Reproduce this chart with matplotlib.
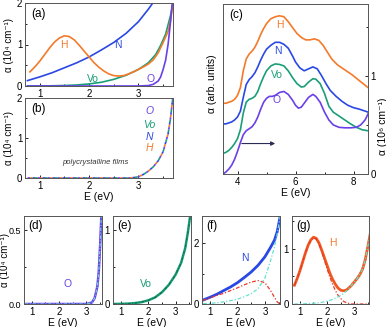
import matplotlib
matplotlib.use("Agg")
import matplotlib.pyplot as plt
from matplotlib.ticker import MultipleLocator, FormatStrFormatter

plt.rcParams['font.family'] = ['Liberation Sans', 'DejaVu Sans']
plt.rcParams['font.size'] = 7

C_H = '#f47a2a'
C_N = '#2a48e4'
C_VO = '#1a9e78'
C_O = '#6a40e8'
C_FIT_R = '#e8382a'
C_FIT_C = '#66e0cc'

# single-crystal spectra, panels (a) and (d)-(g)
E_N = [0.75, 1.0, 1.25, 1.5, 1.75, 2.0, 2.25, 2.5, 2.75, 3.0, 3.2, 3.35, 3.45, 3.55, 3.65]
a_N = [0.13, 0.22, 0.32, 0.44, 0.56, 0.70, 0.87, 1.05, 1.27, 1.55, 1.85, 2.10, 2.38, 2.85, 3.4]
N_red = [0.12, 0.20, 0.28, 0.35, 0.44, 0.53, 0.63, 0.72, 0.77, 0.70, 0.45, 0.22, 0.07, 0.0, 0.0]
N_cyan = [0.01, 0.02, 0.04, 0.07, 0.11, 0.16, 0.24, 0.34, 0.50, 0.85, 1.40, 1.88, 2.31, 2.85, 3.4]

E_H = [0.8, 0.9, 1.0, 1.1, 1.2, 1.3, 1.4, 1.5, 1.6, 1.7, 1.8, 1.9, 2.0, 2.1, 2.2, 2.3,
       2.4, 2.5, 2.6, 2.7, 2.8, 2.9, 3.0, 3.1, 3.2, 3.3, 3.4, 3.5, 3.55, 3.6, 3.65, 3.7]
a_H = [0.34, 0.46, 0.60, 0.76, 0.92, 1.06, 1.16, 1.21, 1.19, 1.11, 0.98, 0.84, 0.70, 0.56,
       0.45, 0.36, 0.29, 0.25, 0.24, 0.25, 0.29, 0.34, 0.40, 0.46, 0.53, 0.63, 0.80, 1.05,
       1.18, 1.32, 1.58, 2.0]
H_red = [0.34, 0.46, 0.60, 0.76, 0.92, 1.06, 1.15, 1.20, 1.18, 1.09, 0.95, 0.80, 0.64, 0.49,
         0.36, 0.25, 0.16, 0.10, 0.05, 0.025, 0.01, 0.0, 0.0, 0.0, 0.0, 0.0, 0.0, 0.0,
         0.0, 0.0, 0.0, 0.0]
H_cyan = [0.0, 0.0, 0.0, 0.005, 0.005, 0.008, 0.01, 0.012, 0.016, 0.022, 0.03, 0.04, 0.05,
          0.065, 0.085, 0.105, 0.13, 0.155, 0.19, 0.23, 0.28, 0.34, 0.40, 0.46, 0.53, 0.63,
          0.80, 1.05, 1.18, 1.32, 1.58, 2.0]

E_VO = [0.75, 1.0, 1.25, 1.5, 1.75, 2.0, 2.25, 2.5, 2.75, 3.0, 3.2, 3.35, 3.45, 3.55, 3.65, 3.7]
a_VO = [0.0, 0.002, 0.005, 0.012, 0.025, 0.05, 0.09, 0.16, 0.26, 0.40, 0.56, 0.76, 0.98,
        1.25, 1.7, 2.0]

E_O = [0.75, 1.5, 2.5, 3.0, 3.2, 3.3, 3.4, 3.45, 3.5, 3.55, 3.6, 3.65, 3.7]
a_O = [0.0, 0.0, 0.0, 0.0, 0.01, 0.04, 0.12, 0.22, 0.40, 0.62, 1.0, 1.55, 2.2]

# polycrystalline films, panel (b)
E_poly = [0.75, 2.0, 2.8, 2.9, 3.0, 3.1, 3.2, 3.3, 3.4, 3.5, 3.6, 3.65, 3.7]
a_poly = [0.0, 0.0, 0.0, 0.01, 0.03, 0.09, 0.17, 0.28, 0.43, 0.66, 1.1, 1.5, 2.05]

# high-energy spectra, panel (c)
E_cO = [3.5, 3.6, 3.7, 3.8, 3.9, 4.0, 4.1, 4.2, 4.3, 4.4, 4.5, 4.6, 4.7, 4.8, 4.9, 5.0, 5.1,
        5.2, 5.3, 5.45, 5.6, 5.75, 5.9, 6.0, 6.1, 6.2, 6.3, 6.45, 6.6, 6.7, 6.85, 7.0, 7.15,
        7.3, 7.5, 7.7, 7.9, 8.1, 8.25, 8.4, 8.5]
c_O = [0.0, 0.02, 0.05, 0.09, 0.15, 0.23, 0.32, 0.40, 0.44, 0.46, 0.48, 0.52, 0.58, 0.66,
       0.73, 0.77, 0.79, 0.79, 0.80, 0.83, 0.84, 0.81, 0.75, 0.70, 0.67, 0.68, 0.72, 0.78,
       0.81, 0.79, 0.73, 0.63, 0.55, 0.50, 0.475, 0.47, 0.47, 0.475, 0.50, 0.55, 0.61]
E_cVO = [3.5, 3.6, 3.7, 3.8, 3.9, 4.0, 4.1, 4.2, 4.3, 4.4, 4.5, 4.6, 4.7, 4.8, 4.9, 5.0, 5.15,
         5.3, 5.45, 5.6, 5.75, 5.9, 6.05, 6.2, 6.3, 6.45, 6.6, 6.7, 6.85, 7.0, 7.15, 7.3, 7.5,
         7.7, 7.9, 8.1, 8.3, 8.5]
c_VO = [0.21, 0.22, 0.24, 0.27, 0.31, 0.36, 0.45, 0.62, 0.73, 0.76, 0.77, 0.79, 0.84, 0.92,
        0.99, 1.05, 1.10, 1.12, 1.115, 1.10, 1.05, 0.98, 0.92, 0.885, 0.89, 0.935, 0.97,
        0.965, 0.92, 0.82, 0.69, 0.63, 0.59, 0.55, 0.51, 0.475, 0.45, 0.44]
E_cN = [3.5, 3.6, 3.7, 3.8, 3.9, 4.0, 4.1, 4.2, 4.3, 4.4, 4.5, 4.6, 4.7, 4.8, 4.9, 5.0, 5.15,
        5.3, 5.45, 5.6, 5.75, 5.9, 6.0, 6.15, 6.3, 6.45, 6.6, 6.75, 6.9, 7.05, 7.2, 7.4, 7.6,
        7.8, 8.0, 8.2, 8.5]
c_N = [0.51, 0.51, 0.52, 0.53, 0.55, 0.58, 0.64, 0.78, 0.91, 0.96, 0.99, 1.03, 1.09, 1.16,
       1.22, 1.27, 1.31, 1.34, 1.34, 1.32, 1.28, 1.20, 1.14, 1.08, 1.05, 1.07, 1.09, 1.07,
       1.00, 0.92, 0.85, 0.79, 0.74, 0.70, 0.675, 0.66, 0.63]
E_cH = [3.5, 3.6, 3.7, 3.8, 3.9, 4.0, 4.1, 4.2, 4.3, 4.4, 4.5, 4.6, 4.7, 4.8, 4.9, 5.0, 5.15,
        5.3, 5.45, 5.6, 5.75, 5.9, 6.05, 6.2, 6.35, 6.5, 6.65, 6.8, 6.95, 7.1, 7.25, 7.45,
        7.7, 7.95, 8.2, 8.5]
c_H = [0.72, 0.72, 0.73, 0.74, 0.76, 0.80, 0.88, 1.05, 1.17, 1.22, 1.25, 1.29, 1.35, 1.42,
       1.48, 1.53, 1.58, 1.60, 1.61, 1.60, 1.55, 1.49, 1.43, 1.39, 1.365, 1.365, 1.375, 1.36,
       1.31, 1.24, 1.17, 1.11, 1.06, 1.01, 0.95, 0.88]

W, H = 386, 327
fig = plt.figure(figsize=(W / 100, H / 100), dpi=100)


def ax_at(l, t, r, b):
    return fig.add_axes([l / W, 1 - b / H, (r - l) / W, (b - t) / H])


def style(ax):
    ax.tick_params(direction='in', which='both', length=2.5, width=0.6, pad=2, labelsize=7)
    ax.tick_params(which='minor', length=1.5)
    for s in ax.spines.values():
        s.set_linewidth(0.7)
        s.set_color('#555555')


ylab = 'α (10⁴ cm⁻¹)'
dashdot = (0, (3, 1.5, 1, 1.5))

# (a)
ax = ax_at(25, 3, 173, 86)
ax.plot(E_N, a_N, color=C_N, lw=1.2)
ax.plot(E_VO, a_VO, color=C_VO, lw=1.2)
ax.plot(E_H, a_H, color=C_H, lw=1.2)
ax.plot(E_O, a_O, color=C_O, lw=1.2)
ax.set_xlim(0.7, 3.7)
ax.set_ylim(0, 2)
ax.xaxis.set_major_locator(MultipleLocator(1))
ax.xaxis.set_minor_locator(MultipleLocator(0.5))
ax.yaxis.set_major_locator(MultipleLocator(1))
ax.yaxis.set_minor_locator(MultipleLocator(0.5))
ax.set_ylabel(ylab, labelpad=2)
ax.text(0.04, 0.94, '(a)', transform=ax.transAxes, va='top', fontsize=8.5)
ax.text(1.49, 0.98, 'H', color=C_H, ha='center', va='center', fontsize=7.5)
ax.text(2.59, 0.98, 'N', color=C_N, ha='center', va='center', fontsize=7.5)
ax.text(2.07, 0.16, 'Vo', color=C_VO, ha='center', va='center', fontsize=7.5)
ax.text(3.24, 0.18, 'O', color=C_O, ha='center', va='center', fontsize=7.5)
style(ax)

# (b)
ax = ax_at(25, 98, 173, 178)
for col, off in [(C_O, 0), (C_VO, 1.5), (C_N, 3), (C_H, 4.5)]:
    ax.plot(E_poly, a_poly, color=col, lw=1.2, ls=(off, (1.5, 4.5)))
ax.set_xlim(0.7, 3.7)
ax.set_ylim(0, 2)
ax.xaxis.set_major_locator(MultipleLocator(1))
ax.xaxis.set_minor_locator(MultipleLocator(0.5))
ax.yaxis.set_major_locator(MultipleLocator(1))
ax.yaxis.set_minor_locator(MultipleLocator(0.5))
ax.set_ylabel(ylab, labelpad=2)
ax.set_xlabel('E (eV)', labelpad=1, fontsize=7.5)
ax.text(0.04, 0.94, '(b)', transform=ax.transAxes, va='top', fontsize=8.5)
for lab, col, yv in [('O', C_O, 1.67), ('Vo', C_VO, 1.32), ('N', C_N, 1.03), ('H', C_H, 0.74)]:
    ax.text(3.22, yv, lab, color=col, ha='center', va='center', fontsize=7.5, style='italic')
ax.text(2.13, 0.38, 'polycrystalline films', ha='center', va='center', fontsize=5.5,
        style='italic', color='#333333')
style(ax)

# (c)
ax = ax_at(223, 4, 368, 174)
ax.plot(E_cH, c_H, color=C_H, lw=1.2)
ax.plot(E_cN, c_N, color=C_N, lw=1.2)
ax.plot(E_cVO, c_VO, color=C_VO, lw=1.2)
ax.plot(E_cO, c_O, color=C_O, lw=1.2)
ax.set_xlim(3.5, 8.5)
ax.set_ylim(0, 1.73)
ax.xaxis.set_major_locator(MultipleLocator(2))
ax.xaxis.set_minor_locator(MultipleLocator(1))
ax.yaxis.tick_right()
ax.yaxis.set_major_locator(MultipleLocator(1))
ax.yaxis.set_minor_locator(MultipleLocator(0.5))
ax.set_xlabel('E (eV)', labelpad=1, fontsize=7.5)
ax.text(0.04, 0.97, '(c)', transform=ax.transAxes, va='top', fontsize=8.5)
ax.text(-0.075, 0.53, 'α (arb. units)', transform=ax.transAxes, rotation=90,
        ha='center', va='center', fontsize=7.5)
ax.text(1.1, 0.28, 'α (10⁶ cm⁻¹)', transform=ax.transAxes, rotation=90,
        ha='center', va='center', fontsize=7.5)
ax.text(5.47, 1.52, 'H', color=C_H, ha='center', va='center', fontsize=7.5)
ax.text(5.40, 1.25, 'N', color=C_N, ha='center', va='center', fontsize=7.5)
ax.text(5.37, 1.01, 'Vo', color=C_VO, ha='center', va='center', fontsize=7.5)
ax.text(5.35, 0.755, 'O', color=C_O, ha='center', va='center', fontsize=7.5)
ax.annotate('', xy=(5.3, 0.31), xytext=(4.15, 0.31),
            arrowprops=dict(arrowstyle='-|>', color='#2a2a55', lw=0.8,
                            mutation_scale=6, shrinkA=0, shrinkB=0))
style(ax)

# (d)-(g)
bottom = [
    ('(d)', 23.5, 101.5, 0.6, 0.5, 0.25, '%.1f'),
    ('(e)', 112.7, 190.7, 1.2, 1, 0.5, '%d'),
    ('(f)', 201.7, 280, 2.9, 2, 1, '%d'),
    ('(g)', 291.7, 369.3, 1.6, 1, 0.5, '%d'),
]
for i, (lab, l, r, ytop, ymaj, ymin, fmt) in enumerate(bottom):
    ax = ax_at(l, 215.7, r, 304)
    if i == 0:
        ax.plot(E_O, a_O, color=C_O, lw=1.8)
        ax.plot(E_O, a_O, color=C_FIT_C, lw=0.8, ls=dashdot)
        ax.text(2.32, 0.136, 'O', color=C_O, ha='center', va='center', fontsize=7.5)
        ax.set_ylabel(ylab, fontsize=7)
        ax.yaxis.set_label_coords(-0.17, 0.5)
    elif i == 1:
        ax.plot(E_VO, a_VO, color=C_VO, lw=1.8)
        ax.plot(E_VO, a_VO, color='#0d6b4c', lw=0.7, ls=dashdot)
        ax.text(1.92, 0.27, 'Vo', color=C_VO, ha='center', va='center', fontsize=7.5)
    elif i == 2:
        ax.plot(E_N, a_N, color=C_N, lw=2.0)
        ax.plot(E_N, N_red, color=C_FIT_R, lw=0.9, ls=dashdot)
        ax.plot(E_N, N_cyan, color=C_FIT_C, lw=0.9, ls=dashdot)
        ax.text(2.26, 1.52, 'N', color=C_N, ha='center', va='center', fontsize=7.5)
    else:
        ax.plot(E_H, a_H, color='#f05a22', lw=2.0)
        ax.plot(E_H, H_red, color=C_FIT_R, lw=0.9, ls=dashdot)
        ax.plot(E_H, H_cyan, color=C_FIT_C, lw=0.9, ls=dashdot)
        ax.text(2.2, 1.11, 'H', color=C_H, ha='center', va='center', fontsize=7.5)
    ax.set_xlim(0.7, 3.55)
    ax.set_ylim(0, ytop)
    ax.xaxis.set_major_locator(MultipleLocator(1))
    ax.xaxis.set_minor_locator(MultipleLocator(0.5))
    ax.yaxis.set_major_locator(MultipleLocator(ymaj))
    ax.yaxis.set_minor_locator(MultipleLocator(ymin))
    ax.yaxis.set_major_formatter(FormatStrFormatter(fmt))
    ax.set_xlabel('E (eV)', labelpad=1, fontsize=7.5)
    ax.text(0.06, 0.95, lab, transform=ax.transAxes, va='top', fontsize=8.5)
    style(ax)
    if i == 0:
        ax.tick_params(axis='y', labelsize=6.5, pad=1.5)

fig.savefig('out.png', dpi=100)
